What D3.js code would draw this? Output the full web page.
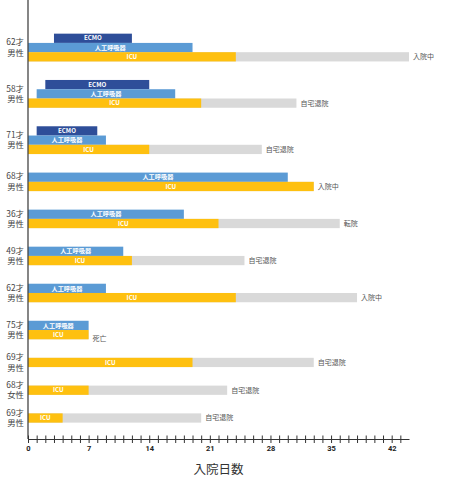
<!DOCTYPE html>
<html><head><meta charset="utf-8">
<script src="https://cdn.jsdelivr.net/npm/d3@7/dist/d3.min.js"></script>
<style>
html,body{margin:0;padding:0;background:#fff;}
svg{display:block;font-family:"Noto Sans CJK JP","Noto Sans",sans-serif;}
</style></head>
<body>
<svg id="chart" width="452" height="484"></svg>
<script>
// ---- data ----
const ages = ["62才","58才","71才","68才","36才","49才","62才","75才","69才","68才","69才"];
const sexes = ["男性","男性","男性","男性","男性","男性","男性","男性","男性","女性","男性"];
const ecmoStart = [3, 2, 1, null, null, null, null, null, null, null, null];
const ecmoEnd   = [12, 14, 8, null, null, null, null, null, null, null, null];
const ventStart = [0, 1, 0, 0, 0, 0, 0, 0, null, null, null];
const ventEnd   = [19, 17, 9, 30, 18, 11, 9, 7, null, null, null];
const icuEnd    = [24, 20, 14, 33, 22, 12, 24, 7, 19, 7, 4];
const stayEnd   = [44, 31, 27, 33, 36, 25, 38, 7, 33, 23, 20];
const outcomes  = ["入院中","自宅退院","自宅退院","入院中","転院","自宅退院","入院中","死亡","自宅退院","自宅退院","自宅退院"];
const xTickLabels = [0, 7, 14, 21, 28, 35, 42];
const xTitle = "入院日数";

// ---- layout ----
const svg = d3.select("#chart");
const axisY = 439;
const x = d3.scaleLinear().domain([0, 44]).range([28, 409]);

// rows: each row takes (nBars + 2) units
const rows = ages.map((a, i) => {
  const bars = [];
  if (ecmoStart[i] != null) bars.push({type:"ECMO", s:ecmoStart[i], e:ecmoEnd[i]});
  if (ventStart[i] != null) bars.push({type:"人工呼吸器", s:ventStart[i], e:ventEnd[i]});
  bars.push({type:"ICU", s:0, e:icuEnd[i]});
  return {i, bars};
});
let acc = 0;
rows.forEach(r => { r.start = acc; acc += r.bars.length + 2; });
const totalUnits = acc;
const y = d3.scaleLinear().domain([0, totalUnits]).range([24.4, 431.9]);
const unit = y(1) - y(0);

const colors = {"ECMO":"#2e4e99", "人工呼吸器":"#5b9bd5", "ICU":"#fec010"};
const grey = "#d9d9d9";

const g = svg.append("g");

rows.forEach(r => {
  const n = r.bars.length;
  const icuTop = y(r.start + n);
  // grey total stay bar
  g.append("rect")
    .attr("x", x(0)).attr("y", icuTop)
    .attr("width", x(stayEnd[r.i]) - x(0)).attr("height", unit)
    .attr("fill", grey);
  r.bars.forEach((b, k) => {
    const top = y(r.start + 1 + k);
    g.append("rect")
      .attr("x", x(b.s)).attr("y", top)
      .attr("width", x(b.e) - x(b.s)).attr("height", unit)
      .attr("fill", colors[b.type]);
    g.append("text")
      .attr("x", (x(b.s) + x(b.e)) / 2).attr("y", top + unit / 2)
      .attr("dy", "0.35em").attr("text-anchor", "middle")
      .attr("fill", "#fff").attr("font-size", 6.2).attr("font-weight", "bold")
      .attr("font-family", "'Noto Sans CJK JP', Roboto, sans-serif")
      .text(b.type);
  });
  // outcome label
  g.append("text")
    .attr("x", x(stayEnd[r.i]) + 4).attr("y", icuTop + unit / 2 + (outcomes[r.i] === "死亡" ? 4 : 0))
    .attr("dy", "0.35em").attr("fill", "#555").attr("font-size", 7)
    .text(outcomes[r.i]);
  // y labels
  const cy = y(r.start + (n + 2) / 2);
  g.append("text").attr("x", 24).attr("y", cy - 5.3).attr("dy", "0.35em")
    .attr("text-anchor", "end").attr("fill", "#444").attr("font-size", 8.4).text(ages[r.i]);
  g.append("text").attr("x", 24).attr("y", cy + 5.3).attr("dy", "0.35em")
    .attr("text-anchor", "end").attr("fill", "#444").attr("font-size", 8.4).text(sexes[r.i]);
});

// left axis line
svg.append("line").attr("x1", x(0)).attr("x2", x(0)).attr("y1", 0).attr("y2", axisY)
  .attr("stroke", "#444").attr("stroke-width", 1.3);

// x axis
const xAxis = d3.axisBottom(x)
  .tickValues(d3.range(0, 44))
  .tickSizeOuter(0)
  .tickFormat(d => xTickLabels.includes(d) ? d : "");
const ax = svg.append("g").attr("transform", `translate(0,${axisY})`).call(xAxis);
ax.select(".domain").attr("stroke", "#333").attr("stroke-width", 1.2);
ax.selectAll(".tick line").attr("y1", -3.5).attr("y2", 4).attr("stroke", "#333");
ax.selectAll(".tick text").attr("y", 7).attr("font-size", 7.5).attr("font-weight", "bold")
  .attr("fill", "#222").attr("font-family", "Roboto, sans-serif");

// x title
svg.append("text").attr("x", (x(0) + x(44)) / 2).attr("y", 474)
  .attr("text-anchor", "middle").attr("fill", "#333").attr("font-size", 12.5).text(xTitle);
</script>
</body></html>
